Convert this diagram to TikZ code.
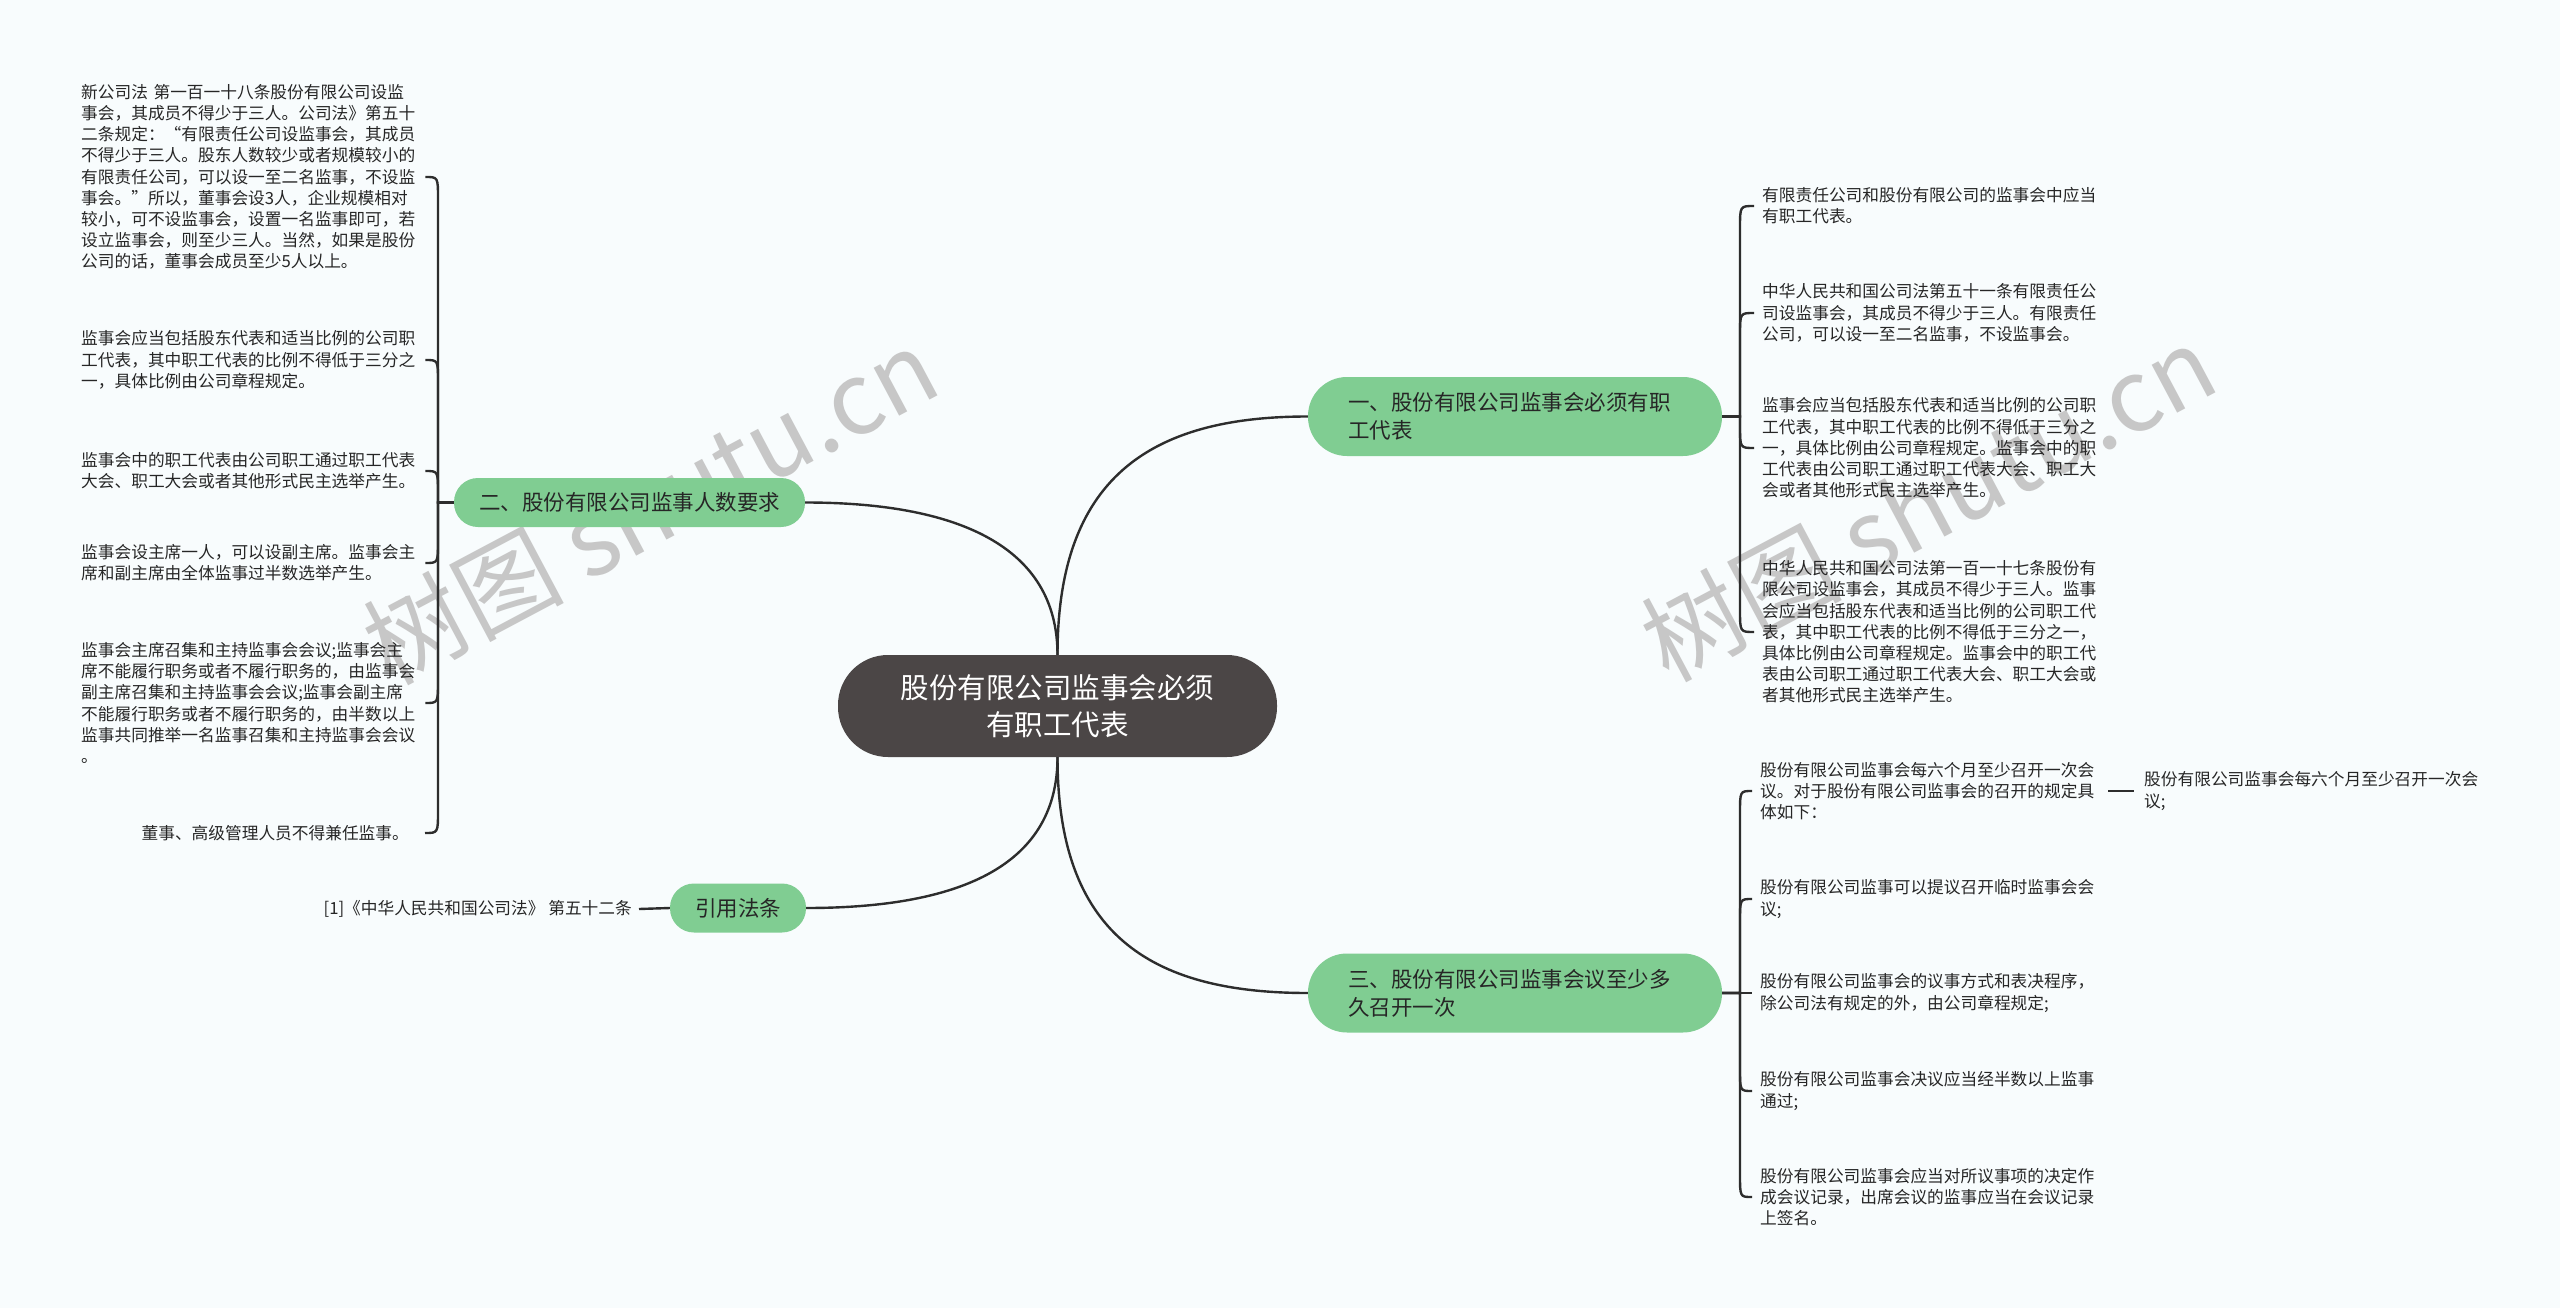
\documentclass[tikz,border=0pt]{standalone}
\usepackage{fontspec}
\setmainfont{Noto Sans CJK SC}
\usetikzlibrary{calc}
\definecolor{bgc}{RGB}{248,252,253}
\definecolor{brgreen}{RGB}{128,205,146}
\definecolor{cdark}{RGB}{75,70,70}
\definecolor{lnk}{RGB}{45,45,45}
\definecolor{txt}{RGB}{38,38,38}
\begin{document}
\begin{tikzpicture}[x=1pt,y=-1pt,
  conn/.style={draw=lnk, line width=2.4pt},
  rootbox/.style={fill=cdark, text=white, rounded corners=50pt, minimum width=439pt, minimum height=102pt, align=center, inner sep=0pt, font=\fontsize{28.5}{37}\selectfont},
  bigbranch/.style={fill=brgreen, text=txt, rounded corners=39pt, minimum height=79pt, text width=334pt, inner xsep=40pt, inner ysep=0pt, align=left, font=\fontsize{21.5}{28}\selectfont},
  smallbranch/.style={fill=brgreen, text=txt, rounded corners=24pt, minimum height=49pt, inner ysep=0pt, align=center, font=\fontsize{21.5}{28}\selectfont},
  leafbox/.style={text=txt, text width=340pt, inner xsep=4pt, inner ysep=0pt, font=\fontsize{16.7}{21.2}\selectfont},
  shortleaf/.style={text=txt, inner ysep=0pt, font=\fontsize{16.7}{21.2}\selectfont},
  wmark/.style={text=black!22, rotate=28, font=\fontsize{100}{100}\selectfont}
]
\fill[bgc] (0,0) rectangle (2560,1308);
\useasboundingbox (0,0) rectangle (2560,1308);

% watermarks
\node[wmark] (wm1) at (650,506) {树图 shutu.cn};
\node[wmark] (wm2) at (1928,503) {树图 shutu.cn};

% root and branches
\node[rootbox] (root) at (1057.5,706) {股份有限公司监事会必须\\有职工代表};
\node[bigbranch] (b1) at (1515,416.5) {一、股份有限公司监事会必须有职\\工代表};
\node[bigbranch] (b3) at (1515,993) {三、股份有限公司监事会议至少多\\久召开一次};
\node[smallbranch, minimum width=351pt] (b2) at (629.5,502.5) {二、股份有限公司监事人数要求};
\node[smallbranch, minimum width=136pt] (fa) at (738,908) {引用法条};

\coordinate (vL) at (438,0);
\coordinate (vR) at (1740,0);

% left leaves
\node[leafbox, align=left, anchor=west] (l1) at (77,177) {新公司法 第一百一十八条股份有限公司设监\\事会，其成员不得少于三人。公司法》第五十\\二条规定：“有限责任公司设监事会，其成员\\不得少于三人。股东人数较少或者规模较小的\\有限责任公司，可以设一至二名监事，不设监\\事会。”所以，董事会设3人，企业规模相对\\较小，可不设监事会，设置一名监事即可，若\\设立监事会，则至少三人。当然，如果是股份\\公司的话，董事会成员至少5人以上。};
\node[leafbox, align=left, anchor=west] (l2) at (77,360) {监事会应当包括股东代表和适当比例的公司职\\工代表，其中职工代表的比例不得低于三分之\\一，具体比例由公司章程规定。};
\node[leafbox, align=left, anchor=west] (l3) at (77,471) {监事会中的职工代表由公司职工通过职工代表\\大会、职工大会或者其他形式民主选举产生。};
\node[leafbox, align=left, anchor=west] (l4) at (77,563) {监事会设主席一人，可以设副主席。监事会主\\席和副主席由全体监事过半数选举产生。};
\node[leafbox, align=left, anchor=west] (l5) at (77,703) {监事会主席召集和主持监事会会议;监事会主\\席不能履行职务或者不履行职务的，由监事会\\副主席召集和主持监事会会议;监事会副主席\\不能履行职务或者不履行职务的，由半数以上\\监事共同推举一名监事召集和主持监事会会议\\。};
\node[shortleaf, inner xsep=16pt, anchor=east] (l6) at (425,833) {董事、高级管理人员不得兼任监事。};

% citation leaf
\node[shortleaf, inner xsep=7pt, anchor=east] (cite) at (639,909) {[1]《中华人民共和国公司法》 第五十二条};

% right leaves of branch 1
\node[leafbox, inner xsep=8pt, align=left, anchor=west] (r1a) at (1754,206) {有限责任公司和股份有限公司的监事会中应当\\有职工代表。};
\node[leafbox, inner xsep=8pt, align=left, anchor=west] (r1b) at (1754,313) {中华人民共和国公司法第五十一条有限责任公\\司设监事会，其成员不得少于三人。有限责任\\公司，可以设一至二名监事，不设监事会。};
\node[leafbox, inner xsep=8pt, align=left, anchor=west] (r1c) at (1754,448) {监事会应当包括股东代表和适当比例的公司职\\工代表，其中职工代表的比例不得低于三分之\\一，具体比例由公司章程规定。监事会中的职\\工代表由公司职工通过职工代表大会、职工大\\会或者其他形式民主选举产生。};
\node[leafbox, inner xsep=8pt, align=left, anchor=west] (r1d) at (1754,632) {中华人民共和国公司法第一百一十七条股份有\\限公司设监事会，其成员不得少于三人。监事\\会应当包括股东代表和适当比例的公司职工代\\表，其中职工代表的比例不得低于三分之一，\\具体比例由公司章程规定。监事会中的职工代\\表由公司职工通过职工代表大会、职工大会或\\者其他形式民主选举产生。};

% right leaves of branch 3
\node[leafbox, inner xsep=8pt, align=left, anchor=west] (r3a) at (1752,791) {股份有限公司监事会每六个月至少召开一次会\\议。对于股份有限公司监事会的召开的规定具\\体如下：};
\node[leafbox, inner xsep=8pt, align=left, anchor=west] (r3b) at (1752,899) {股份有限公司监事可以提议召开临时监事会会\\议;};
\node[leafbox, inner xsep=8pt, align=left, anchor=west] (r3c) at (1752,993) {股份有限公司监事会的议事方式和表决程序，\\除公司法有规定的外，由公司章程规定;};
\node[leafbox, inner xsep=8pt, align=left, anchor=west] (r3d) at (1752,1091) {股份有限公司监事会决议应当经半数以上监事\\通过;};
\node[leafbox, inner xsep=8pt, align=left, anchor=west] (r3e) at (1752,1197) {股份有限公司监事会应当对所议事项的决定作\\成会议记录，出席会议的监事应当在会议记录\\上签名。};
\node[leafbox, inner xsep=10pt, align=left, anchor=west] (r3s) at (2134,791) {股份有限公司监事会每六个月至少召开一次会\\议;};

% main curves
\draw[conn] (root.north) .. controls +(0,-175) and +(-160,0) .. (b1.west);
\draw[conn] (root.north) .. controls +(0,-110) and +(150,0) .. (b2.east);
\draw[conn] (root.south) .. controls +(0,175) and +(-160,0) .. (b3.west);
\draw[conn] (root.south) .. controls +(0,105) and +(160,0) .. (fa.east);

% citation
\draw[conn] (fa.west) -- (cite.east);

% left bracket: children above / below the branch
\foreach \n in {l1,l2,l3}
  \draw[conn] (b2.west) -- (b2.west -| vL) -- ($(vL |- \n.east)+(0,22)$) .. controls (vL |- \n.east) .. (\n.east);
\foreach \n in {l4,l5,l6}
  \draw[conn] (b2.west) -- (b2.west -| vL) -- ($(vL |- \n.east)+(0,-22)$) .. controls (vL |- \n.east) .. (\n.east);

% right bracket, branch 1
\foreach \n in {r1a,r1b}
  \draw[conn] (b1.east) -- (b1.east -| vR) -- ($(vR |- \n.west)+(0,22)$) .. controls (vR |- \n.west) .. (\n.west);
\foreach \n in {r1c,r1d}
  \draw[conn] (b1.east) -- (b1.east -| vR) -- ($(vR |- \n.west)+(0,-22)$) .. controls (vR |- \n.west) .. (\n.west);

% right bracket, branch 3
\foreach \n in {r3a,r3b}
  \draw[conn] (b3.east) -- (b3.east -| vR) -- ($(vR |- \n.west)+(0,22)$) .. controls (vR |- \n.west) .. (\n.west);
\foreach \n in {r3d,r3e}
  \draw[conn] (b3.east) -- (b3.east -| vR) -- ($(vR |- \n.west)+(0,-22)$) .. controls (vR |- \n.west) .. (\n.west);
\draw[conn] (b3.east) -- (r3c.west);

% sub leaf
\draw[conn] (r3a.east) -- (r3s.west);
\end{tikzpicture}
\end{document}
